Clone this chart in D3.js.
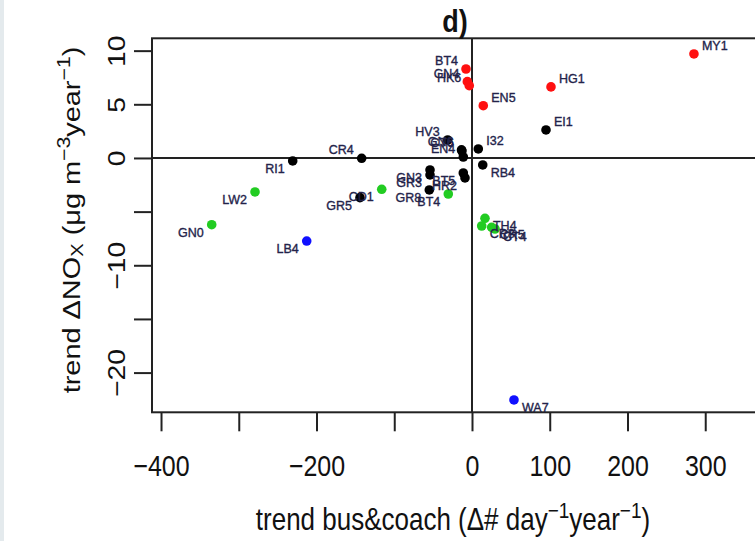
<!DOCTYPE html>
<html>
<head>
<meta charset="utf-8">
<script src="https://cdn.jsdelivr.net/npm/d3@7"></script>
<style>
  html, body { margin: 0; padding: 0; background: #fff; }
  svg { display: block; font-family: "Liberation Sans", Arial, sans-serif; }
</style>
</head>
<body>
<svg id="chart" width="755" height="541"></svg>
<script>
// Site codes, bus & coach trend (x) and NOx trend (y)
const sites = ["MY1","HG1","EN5","BT4","GN4","HK6",
               "EI1","I32","RB4","HV3","GN6","CT6","EN4","RI1","CR4","GR5","GN3","GR3","BT5","HR2","GR8",
               "LW2","GN0","CD1","BT4","TH4","CR8","CR5","CT4",
               "LB4","WA7"];
const busTrend = [285.5, 101.6, 14.5, -7.7, -6.0, -3.5,
                  95.2, 8.1, 13.8, -31.3, -13.5, -12.9, -11.2, -230.6, -141.9, -144.1, -54.0, -54.0, -11.2, -9.0, -54.9,
                  -279.1, -334.8, -116.1, -30.5, 16.7, 12.5, 25.3, 29.6,
                  -212.6, 54.0];
const noxTrend = [9.69, 6.62, 4.87, 8.29, 7.11, 6.74,
                  2.61, 0.84, -0.65, 1.68, 0.75, 0.65, 0.09, -0.28, -0.03, -3.70, -1.12, -1.58, -1.40, -1.86, -2.98,
                  -3.17, -6.22, -2.92, -3.36, -5.62, -6.34, -6.46, -6.62,
                  -7.74, -22.55];
const group = ["red","red","red","red","red","red",
               "black","black","black","black","black","black","black","black","black","black","black","black","black","black","black",
               "green","green","green","green","green","green","green","green",
               "blue","blue"];
// Which corner of the point each label sits at
const labelSide = ["ne","ne","ne","nw","nw","nw",
                   "ne","ne","se","nw","nw","nw","nw","sw","nw","sw","sw","sw","sw","sw","sw",
                   "sw","sw","sw","sw","se","se","se","se",
                   "sw","se"];

const xTicks = [-400, -300, -200, -100, 0, 100, 200, 300];
const xTickLabels = ["−400", "", "−200", "", "0", "100", "200", "300"];
const yTicks = [10, 5, 0, -5, -10, -15, -20];
const yTickLabels = ["10", "5", "0", "", "−10", "", "−20"];

const colors = { red: "#ff1010", black: "#000000", green: "#22cc22", blue: "#1010ff" };

const svg = d3.select("#chart");
const W = 755, H = 541;
const plot = { left: 152, top: 38.3, bottom: 412.3, right: 800 };
const stretch = 1.18;

svg.append("rect").attr("width", W).attr("height", H).attr("fill", "#fff");
svg.append("rect").attr("x", 0).attr("y", 0).attr("width", 4).attr("height", H).attr("fill", "#e4eaed");

const x = d3.scaleLinear().domain([-411.6, 421.9]).range([plot.left, plot.right]);
const y = d3.scaleLinear().domain([-23.7, 11.15]).range([plot.bottom, plot.top]);

const ink = "#222";

// reference lines through the origin
svg.append("line").attr("x1", plot.left).attr("x2", plot.right)
  .attr("y1", y(0)).attr("y2", y(0)).attr("stroke", ink).attr("stroke-width", 2);
svg.append("line").attr("x1", x(0)).attr("x2", x(0))
  .attr("y1", plot.top).attr("y2", plot.bottom).attr("stroke", ink).attr("stroke-width", 2);

// plot box
svg.append("rect").attr("x", plot.left).attr("y", plot.top)
  .attr("width", plot.right - plot.left).attr("height", plot.bottom - plot.top)
  .attr("fill", "none").attr("stroke", ink).attr("stroke-width", 2);

// axes
const xAxis = d3.axisBottom(x).tickValues(xTicks).tickSize(19).tickSizeOuter(0)
  .tickFormat((d, i) => xTickLabels[i]);
const gx = svg.append("g").attr("transform", `translate(0,${plot.bottom})`).call(xAxis);
gx.select(".domain").remove();
gx.selectAll(".tick line").attr("stroke", ink).attr("stroke-width", 2);
gx.selectAll(".tick text")
  .attr("fill", "#111").attr("font-size", 25).attr("y", 0).attr("dy", 0)
  .attr("transform", `translate(0,64) scale(1,${stretch})`);

const yAxis = d3.axisLeft(y).tickValues(yTicks).tickSize(18).tickSizeOuter(0)
  .tickFormat((d, i) => yTickLabels[i]);
const gy = svg.append("g").attr("transform", `translate(${plot.left},0)`).call(yAxis);
gy.select(".domain").remove();
gy.selectAll(".tick line").attr("stroke", ink).attr("stroke-width", 2);
gy.selectAll(".tick text")
  .attr("fill", "#111").attr("font-size", 24).attr("x", 0).attr("dy", 0)
  .attr("text-anchor", "middle")
  .attr("transform", `translate(-27,0) scale(1,${stretch}) rotate(-90)`);

// points
const data = sites.map((s, i) => ({ site: s, bx: busTrend[i], ny: noxTrend[i], g: group[i], side: labelSide[i] }));

svg.append("g").selectAll("circle").data(data).join("circle")
  .attr("cx", d => x(d.bx)).attr("cy", d => y(d.ny)).attr("r", 4.8)
  .attr("fill", d => colors[d.g]);

// site labels
svg.append("g").selectAll("text").data(data).join("text")
  .attr("x", d => x(d.bx) + (d.side[1] === "e" ? 8 : -8))
  .attr("y", d => y(d.ny) + (d.side[0] === "n" ? -4 : 12))
  .attr("text-anchor", d => d.side[1] === "e" ? "start" : "end")
  .attr("font-size", 12.5).attr("fill", "#23234a")
  .attr("stroke", "#23234a").attr("stroke-width", 0.35)
  .text(d => d.site);

// panel title
svg.append("text").attr("transform", `translate(455,32) scale(1,${stretch})`)
  .attr("text-anchor", "middle").attr("font-size", 27).attr("font-weight", "bold")
  .attr("fill", "#111").text("d)");

// x-axis title
const xt = svg.append("text").attr("transform", `translate(453,530) scale(1,${stretch})`)
  .attr("text-anchor", "middle").attr("font-size", 26).attr("fill", "#111");
xt.append("tspan").text("trend bus&coach (Δ# day");
xt.append("tspan").attr("dy", -10).attr("font-size", 19).text("−1");
xt.append("tspan").attr("dy", 10).text("year");
xt.append("tspan").attr("dy", -10).attr("font-size", 19).text("−1");
xt.append("tspan").attr("dy", 10).text(")");

// y-axis title
const yt = svg.append("text").attr("transform", `translate(80,220) scale(1,${stretch}) rotate(-90)`)
  .attr("text-anchor", "middle").attr("font-size", 24.5).attr("fill", "#111");
yt.append("tspan").text("trend ΔNO");
yt.append("tspan").attr("dy", 3).attr("font-size", 17).text("X");
yt.append("tspan").attr("dy", -3).text(" (μg m");
yt.append("tspan").attr("dy", -10).attr("font-size", 18).text("−3");
yt.append("tspan").attr("dy", 10).text("year");
yt.append("tspan").attr("dy", -10).attr("font-size", 18).text("−1");
yt.append("tspan").attr("dy", 10).text(")");
</script>
</body>
</html>
